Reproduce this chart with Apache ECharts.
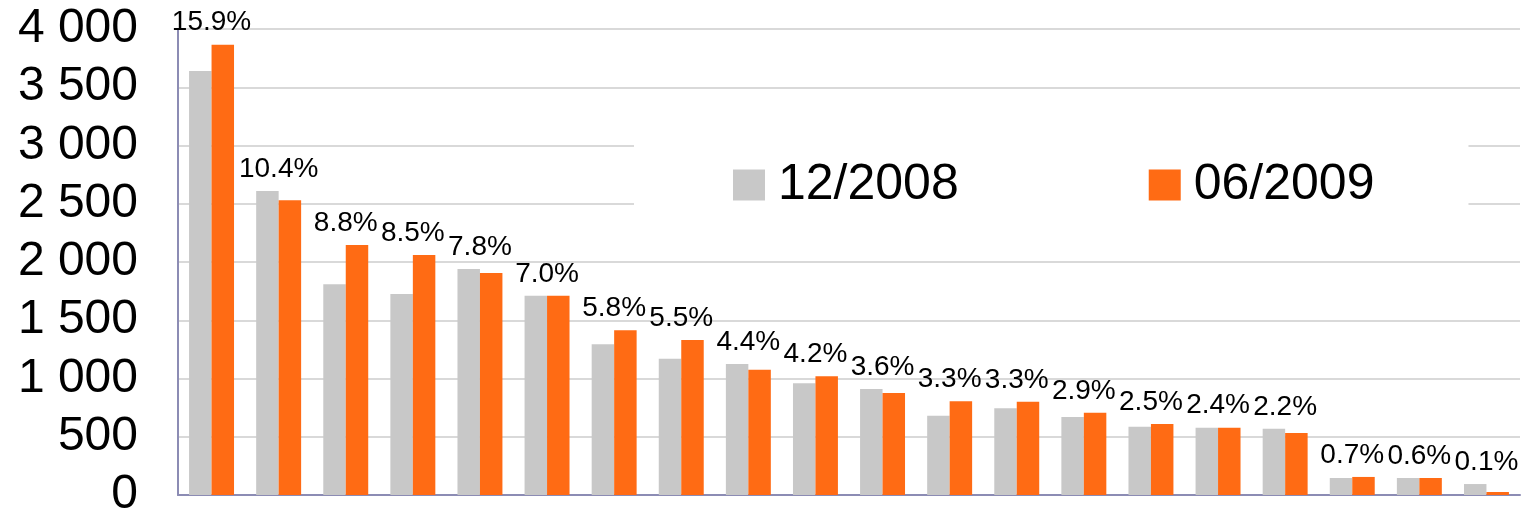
<!DOCTYPE html>
<html>
<head>
<meta charset="utf-8">
<script src="https://cdn.jsdelivr.net/npm/echarts@6/dist/echarts.min.js"></script>
<style>
html,body{margin:0;padding:0;background:#fff;}
#chart{width:1530px;height:514px;}
</style>
</head>
<body>
<div id="chart"></div>
<script>
var categories=['1','2','3','4','5','6','7','8','9','10','11','12','13','14','15','16','17','18','19','20'];
var dec2008=[3640, 2610, 1810, 1725, 1940, 1710, 1295, 1170, 1125, 960, 910, 680, 745, 670, 585, 578, 568, 146, 146, 94];
var jun2009=[3865, 2530, 2145, 2060, 1905, 1710, 1415, 1330, 1075, 1020, 875, 805, 800, 705, 610, 578, 532, 155, 146, 26];
var shares=['15.9%','10.4%','8.8%','8.5%','7.8%','7.0%','5.8%','5.5%','4.4%','4.2%','3.6%','3.3%','3.3%','2.9%','2.5%','2.4%','2.2%','0.7%','0.6%','0.1%'];
var yTicks=[0,500,1000,1500,2000,2500,3000,3500,4000];

var font='"Liberation Sans", Arial, sans-serif';
var chart=echarts.init(document.getElementById('chart'));

// label anchor = top of the taller bar of each pair
var labelTop=dec2008.map(function(v,i){ return Math.max(v,jun2009[i]); });

var option={
    animation:false,
    grid:{left:178,right:10,top:29,bottom:19,outerBoundsMode:'none'},
    legend:{
        data:['12/2008','06/2009'],
        left:634,
        top:120,
        backgroundColor:'#fff',
        padding:[40,94,40,99],
        itemWidth:32,
        itemHeight:31,
        itemGap:190,
        icon:'rect',
        textStyle:{fontFamily:font,fontSize:50,color:'#000',padding:[0,0,0,8]}
    },
    xAxis:{
        type:'category',
        data:categories,
        axisLine:{lineStyle:{color:'#8c8cb4',width:2}},
        axisTick:{show:false},
        axisLabel:{show:false},
        splitLine:{show:false}
    },
    yAxis:{
        type:'value',
        min:yTicks[0],
        max:yTicks[yTicks.length-1],
        interval:500,
        axisLine:{show:true,lineStyle:{color:'#8c8cb4',width:2}},
        axisTick:{show:false},
        axisLabel:{
            fontFamily:font,fontSize:48,color:'#000',margin:40,
            formatter:function(v){ return String(v).replace(/\B(?=(\d{3})+(?!\d))/g,' '); }
        },
        splitLine:{lineStyle:{color:'#d9d9d9',width:2}}
    },
    series:[
        {
            name:'12/2008',
            type:'bar',
            data:dec2008,
            barGap:'0%',
            barCategoryGap:'33%',
            itemStyle:{color:'#c8c8c8'}
        },
        {
            name:'06/2009',
            type:'bar',
            data:jun2009,
            itemStyle:{color:'#ff6b14'}
        },
        {
            name:'share',
            type:'scatter',
            data:labelTop,
            symbolSize:0,
            silent:true,
            z:5,
            itemStyle:{opacity:1},
            label:{
                show:true,
                position:'top',
                distance:8,
                fontFamily:font,
                fontSize:28,
                color:'#000',
                opacity:1,
                formatter:function(p){ return shares[p.dataIndex]; }
            }
        }
    ]
};
chart.setOption(option);
</script>
</body>
</html>
